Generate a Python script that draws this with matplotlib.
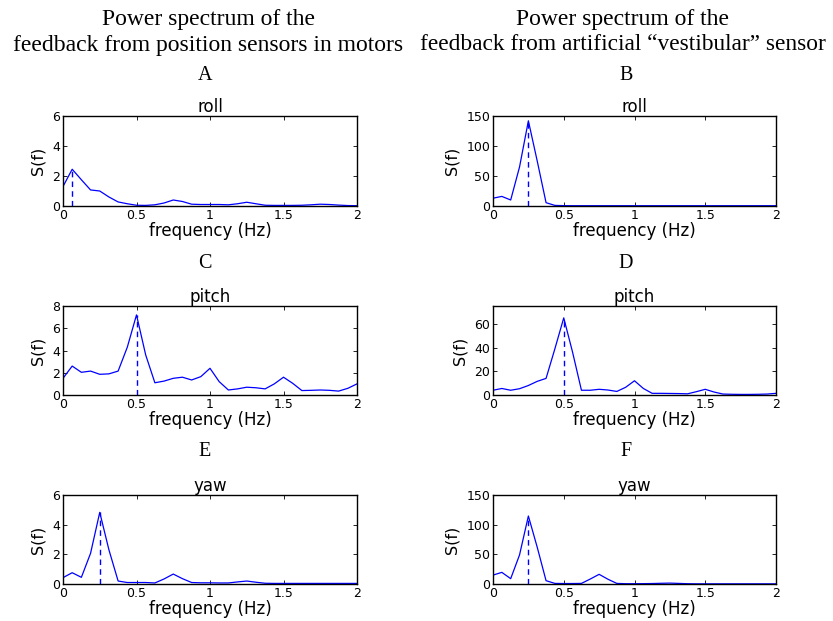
import numpy as np
import matplotlib
matplotlib.use("Agg")
import matplotlib.pyplot as plt

# frequency grid (Hz), step 1/16
freq = np.arange(33) / 16.0

# power spectra
roll_motor = [1.3, 2.45, 1.75, 1.07, 1.0, 0.6, 0.27, 0.15, 0.05, 0.04, 0.08, 0.2,
              0.4, 0.3, 0.12, 0.1, 0.1, 0.1, 0.08, 0.15, 0.25, 0.15, 0.05, 0.04,
              0.04, 0.04, 0.05, 0.08, 0.12, 0.1, 0.06, 0.03, 0.02]
roll_vest = [13, 16, 10, 65, 142, 75, 5.5, 1.0, 0.6, 0.5, 0.5, 0.5, 0.5, 0.5, 0.5,
             0.5, 0.5, 0.5, 0.5, 0.5, 0.5, 0.5, 0.5, 0.5, 0.5, 0.5, 0.5, 0.5, 0.5,
             0.5, 0.5, 0.5, 0.5]
pitch_motor = [1.5, 2.6, 2.04, 2.15, 1.86, 1.9, 2.15, 4.3, 7.2, 3.6, 1.1, 1.25,
               1.5, 1.6, 1.35, 1.65, 2.4, 1.2, 0.45, 0.55, 0.7, 0.65, 0.55, 1.0,
               1.6, 1.05, 0.4, 0.42, 0.45, 0.42, 0.35, 0.6, 1.0]
pitch_vest = [4, 5.5, 4, 5.3, 8, 11.5, 14, 39, 65, 36, 4, 4, 4.8, 4.2, 3, 6.5, 12,
              5.5, 1.4, 1.4, 1.3, 1.2, 1.0, 2.8, 4.8, 2.5, 0.8, 0.6, 0.5, 0.5,
              0.6, 0.8, 1.4]
yaw_motor = [0.43, 0.76, 0.45, 2.07, 4.83, 2.3, 0.2, 0.1, 0.1, 0.1, 0.07, 0.34,
             0.67, 0.36, 0.1, 0.08, 0.08, 0.07, 0.07, 0.14, 0.2, 0.12, 0.05, 0.04,
             0.04, 0.04, 0.04, 0.04, 0.04, 0.04, 0.04, 0.04, 0.04]
yaw_vest = [15, 19.6, 9, 49, 114.6, 62, 5.6, 1.0, 0.8, 0.8, 1.0, 8.4, 16.3, 8, 1.0,
            0.5, 0.5, 0.6, 0.8, 1.2, 1.5, 1.0, 0.5, 0.3, 0.3, 0.3, 0.3, 0.3, 0.3,
            0.3, 0.3, 0.3, 0.3]

panels = [
    ("A", "roll", roll_motor, 6, [0, 2, 4, 6]),
    ("B", "roll", roll_vest, 150, [0, 50, 100, 150]),
    ("C", "pitch", pitch_motor, 8, [0, 2, 4, 6, 8]),
    ("D", "pitch", pitch_vest, 75, [0, 20, 40, 60]),
    ("E", "yaw", yaw_motor, 6, [0, 2, 4, 6]),
    ("F", "yaw", yaw_vest, 150, [0, 50, 100, 150]),
]

W, H = 833, 621
fig = plt.figure(figsize=(W / 100, H / 100), dpi=100)
sans = ["DejaVu Sans"]
serif = ["Liberation Serif", "DejaVu Serif"]

# axes boxes in pixels: (left, right) per column, (top, bottom) per row
cols = [(63, 357), (493, 776)]
rows = [(116, 206), (306, 395), (495, 584)]
letter_x = [205, 626]
letter_y = [76, 264, 451]

for i, (letter, name, vals, ymax, yt) in enumerate(panels):
    r, c = divmod(i, 2)
    l, rr = cols[c]
    t, b = rows[r]
    ax = fig.add_axes([l / W, 1 - b / H, (rr - l) / W, (b - t) / H])
    vals = np.array(vals)
    ax.plot(freq, vals, color="#0000ff", lw=0.9)
    k = np.argmax(vals)
    ax.plot([freq[k], freq[k]], [0, vals[k]], color="#0000ff", lw=1.0,
            ls=(0, (4, 3)))
    ax.set_xlim(0, 2)
    ax.set_ylim(0, ymax)
    ax.set_xticks([0, 0.5, 1, 1.5, 2])
    ax.set_xticklabels(["0", "0.5", "1", "1.5", "2"])
    ax.set_yticks(yt)
    ax.tick_params(direction="in", top=True, right=True, length=3, width=0.6,
                   labelsize=9, pad=2)
    for lab in ax.get_xticklabels() + ax.get_yticklabels():
        lab.set_family(sans)
    for s in ax.spines.values():
        s.set_linewidth(1.0)
    ax.set_xlabel("frequency (Hz)", family=sans, fontsize=12, labelpad=0)
    ax.set_ylabel("S(f)", family=sans, fontsize=11.5, labelpad=5)
    ax.set_title(name, family=sans, fontsize=12, pad=3)
    fig.text(letter_x[c] / W, 1 - letter_y[r] / H, letter, family=serif,
             fontsize=14.5, ha="center", va="center")

fig.text(208 / W, 1 - 19 / H, "Power spectrum of the", family=serif,
         fontsize=17, ha="center", va="center")
fig.text(208 / W, 1 - 45 / H, "feedback from position sensors in motors",
         family=serif, fontsize=17, ha="center", va="center")
fig.text(623 / W, 1 - 19 / H, "Power spectrum of the", family=serif,
         fontsize=17, ha="center", va="center")
fig.text(623 / W, 1 - 45 / H, "feedback from artificial \u201cvestibular\u201d sensor",
         family=serif, fontsize=16.8, ha="center", va="center")

fig.savefig("out.png", dpi=100)
